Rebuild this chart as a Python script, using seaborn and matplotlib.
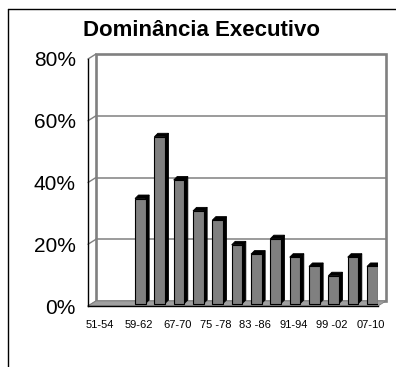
import numpy as np
import pandas as pd
import matplotlib
matplotlib.use("Agg")
import matplotlib.pyplot as plt
import seaborn as sns
from matplotlib.patches import Polygon, Rectangle
from matplotlib.lines import Line2D
from matplotlib.transforms import ScaledTranslation

# Four-year periods and the share of executive dominance (%)
periods = ["51-54", "55-58", "59-62", "63-66", "67-70", "71-74", "75 -78", "79-82",
           "83 -86", "87-90", "91-94", "95-98", "99 -02", "03-06", "07-10"]
shares = [0, 0, 34, 54, 40, 30, 27, 19, 16, 21, 15, 12, 9, 15, 12]
y_ticks = [0, 20, 40, 60, 80]
title = "Dominância Executivo"

sns.set_style("white")
plt.rcParams["font.family"] = ["Liberation Sans", "DejaVu Sans"]
plt.rcParams["text.color"] = "black"
plt.rcParams["xtick.color"] = "black"
plt.rcParams["ytick.color"] = "black"
plt.rcParams["axes.labelcolor"] = "black"

W, H, DPI = 396, 367, 100
fig = plt.figure(figsize=(W / DPI, H / DPI), dpi=DPI)
fig.patch.set_facecolor("white")

# front plane of the pseudo-3D box
ax_left, ax_bottom, ax_w, ax_h = 88, 61, 290, 247
ax = fig.add_axes([ax_left / W, ax_bottom / H, ax_w / W, ax_h / H])
ax.patch.set_visible(False)

df = pd.DataFrame({"periodo": periods, "dominancia": shares})
sns.barplot(data=df, x="periodo", y="dominancia", order=periods, color="#808080",
            saturation=1, width=0.55, edgecolor="black", linewidth=0.8, ax=ax, zorder=5)

ax.set_xlim(-0.5, len(periods) - 0.5)
ax.set_ylim(0, 80)
ax.set_xlabel("")
ax.set_ylabel("")

GRAY = "#808080"

def px(dx, dy):
    return ScaledTranslation(dx / DPI, dy / DPI, fig.dpi_scale_trans)

# depth offsets (pixels) of the back wall and the bar row
wall_dx, wall_dy = 8, 5
bar_dx, bar_dy = 4, 2.5
ox, oy = wall_dx / ax_w, wall_dy / ax_h

# back wall
wall = Rectangle((0, 0), 1, 1, transform=ax.transAxes + px(wall_dx, wall_dy),
                 facecolor="white", edgecolor=GRAY, linewidth=1.9, zorder=0, clip_on=False)
ax.add_patch(wall)

# wall gridlines
for v in y_ticks[1:-1]:
    ax.add_line(Line2D([-0.5, len(periods) - 0.5], [v, v], color=GRAY, lw=1.1,
                       transform=ax.transData + px(wall_dx, wall_dy), zorder=1, clip_on=False))

# side wall connectors from the front axis to the back wall
for v in y_ticks:
    f = v / 80
    ax.add_line(Line2D([0, ox], [f, f + oy], color=GRAY, lw=1.0,
                       transform=ax.transAxes, zorder=2, clip_on=False))

# floor
floor = Polygon([(0, 0), (1, 0), (1 + ox, oy), (ox, oy)], closed=True,
                transform=ax.transAxes, facecolor="#a0a0a0", edgecolor=GRAY,
                linewidth=0.6, zorder=3, clip_on=False)
ax.add_patch(floor)

# bars: shift to the middle depth and add side and top faces
xspan = len(periods)
ddx = 3.5 * xspan / ax_w
ddy = 3.5 * 80 / ax_h
bar_shift = ax.transData + px(bar_dx, bar_dy)
for p in list(ax.patches):
    if not isinstance(p, Rectangle) or p is wall:
        continue
    h = p.get_height()
    if h <= 0:
        p.set_visible(False)
        continue
    x0 = p.get_x()
    x1 = x0 + p.get_width()
    p.set_transform(bar_shift)
    side = Polygon([(x1, 0), (x1 + ddx, ddy), (x1 + ddx, h + ddy), (x1, h)], closed=True,
                   facecolor="black", edgecolor="black", linewidth=0.6,
                   transform=bar_shift, zorder=4)
    top = Polygon([(x0, h), (x0 + ddx, h + ddy), (x1 + ddx, h + ddy), (x1, h)], closed=True,
                  facecolor="black", edgecolor="black", linewidth=0.6,
                  transform=bar_shift, zorder=6)
    ax.add_patch(side)
    ax.add_patch(top)

# axes lines
for s in ["top", "right"]:
    ax.spines[s].set_visible(False)
for s in ["left", "bottom"]:
    ax.spines[s].set_color("black")
    ax.spines[s].set_linewidth(1.0)
    ax.spines[s].set_zorder(8)

# ticks
ax.set_yticks(y_ticks)
ax.set_yticklabels([f"{v}%" for v in y_ticks], fontsize=15, color="black")
ax.tick_params(axis="y", direction="out", length=4.3, width=0.8, pad=4.5,
               colors="black", labelcolor="black")

ax.set_xticks(np.arange(-0.5, len(periods), 1))
ax.set_xticklabels([""] * len(np.arange(-0.5, len(periods), 1)))
ax.tick_params(axis="x", which="major", direction="out", length=3.6, width=0.8, colors="black")
ax.set_xticks(np.arange(0, len(periods), 2), minor=True)
ax.set_xticklabels(periods[::2], minor=True, fontsize=8, color="black")
ax.tick_params(axis="x", which="minor", length=0, pad=10, labelcolor="black")
for lab in ax.get_xticklabels(minor=True):
    lab.set_transform(lab.get_transform() + px(2.5, 0))

ax.grid(False)

# title and outer frame
fig.text(202 / W, (H - 36) / H, title, ha="center", va="baseline",
         fontsize=16, fontweight="bold", color="black")
fig.add_artist(Line2D([7.5 / W, 7.5 / W], [0, (H - 8.5) / H], color="black", lw=1.0))
fig.add_artist(Line2D([7.5 / W, 1], [(H - 8.5) / H, (H - 8.5) / H], color="black", lw=1.0))

fig.savefig("out.png", dpi=DPI)
